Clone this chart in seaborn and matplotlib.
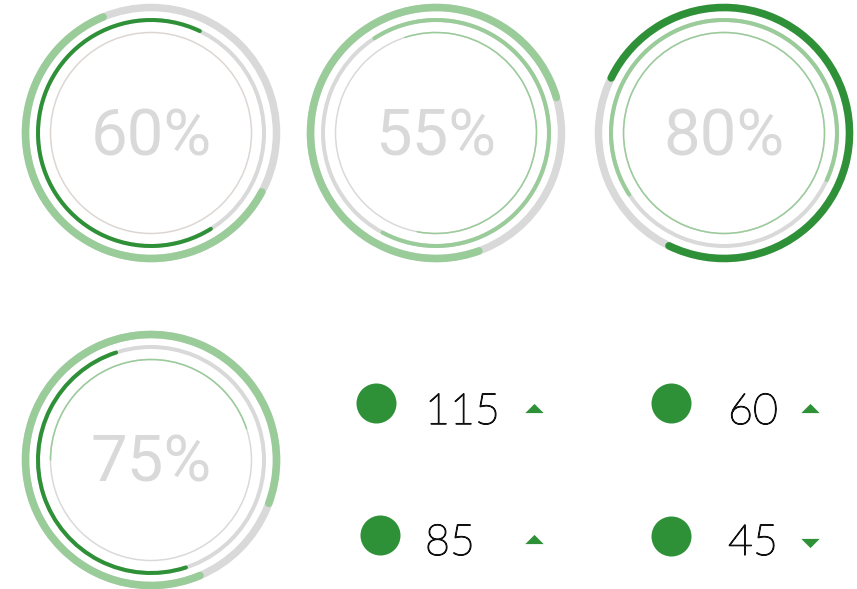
import pandas as pd
import matplotlib
matplotlib.use("Agg")
import matplotlib.pyplot as plt
import matplotlib.patheffects as pe
from matplotlib.patches import Arc
import seaborn as sns

# Gauge data (angles in degrees clockwise from 12 o'clock, values as fraction of circle)
gauge_labels = ["60%", "55%", "80%", "75%"]
outer_start = [118, 160, 296, 157]
outer_value = [0.61, 0.76, 0.75, 0.87]
middle_start = [148, 327, 237, 162]
middle_value = [0.66, 0.67, 0.66, 0.50]
inner_start = [0, 342, 0, 270]
inner_value = [0.0, 0.58, 1.0, 0.45]

# KPI data
kpi_values = [115, 60, 85, 45]
kpi_trend = ["up", "up", "up", "down"]

# Colours
dark_green = "#2e9137"
light_green = "#99cc99"
track_grey = "#d9d9d9"
outer_colors = [light_green, light_green, dark_green, light_green]
middle_colors = [dark_green, light_green, light_green, dark_green]
inner_colors = [light_green, light_green, light_green, light_green]
inner_tracks = ["#dcd6d2", track_grey, track_grey, track_grey]

# Layout (pixel coordinates)
W, H = 857, 589
gauge_centers = [(151, 133), (436, 133), (724, 133), (151, 460)]
ring_radius = {"outer": 125.5, "middle": 113, "inner": 100.5}
ring_width = {"outer": 7.5, "middle": 4.0, "inner": 1.5}
kpi_dot_pos = [(376, 403), (671, 403), (380, 535), (671, 536)]
kpi_text_pos = [(425, 424), (728, 424), (425, 555), (728, 555)]
kpi_tri_pos = [(534, 408), (810, 408), (534, 539), (810, 543)]

sns.set_style("white")
plt.rcParams["font.family"] = ["Roboto", "DejaVu Sans"]

fig = plt.figure(figsize=(W / 100, H / 100), dpi=100)
ax = fig.add_axes([0, 0, 1, 1])
ax.set_xlim(0, W)
ax.set_ylim(H, 0)
ax.set_aspect("equal")
ax.axis("off")

px = 72 / 100  # pixels -> points


def ring(center, ring_name, start, value, color, track):
    r = ring_radius[ring_name]
    lw = ring_width[ring_name] * px
    ax.add_patch(Arc(center, 2 * r, 2 * r, theta1=0, theta2=360,
                     lw=lw, color=track))
    if value > 0:
        t1 = start - 90
        t2 = t1 + value * 360
        ax.add_patch(Arc(center, 2 * r, 2 * r, theta1=t1, theta2=t2,
                         lw=lw, color=color, capstyle="round"))


for i, c in enumerate(gauge_centers):
    ring(c, "outer", outer_start[i], outer_value[i], outer_colors[i], track_grey)
    ring(c, "middle", middle_start[i], middle_value[i], middle_colors[i], track_grey)
    ring(c, "inner", inner_start[i], inner_value[i], inner_colors[i], inner_tracks[i])
    ax.text(c[0], c[1] + 22, gauge_labels[i], ha="center", va="baseline",
            fontsize=47, color="#d9d9d9", family="Roboto")

# KPI bullets
dots = pd.DataFrame(kpi_dot_pos, columns=["x", "y"])
sns.scatterplot(data=dots, x="x", y="y", s=830, color=dark_green,
                linewidth=0, ax=ax, legend=False)

tri = pd.DataFrame(kpi_tri_pos, columns=["x", "y"])
tri["trend"] = kpi_trend
up_marker = [(-1, -0.5), (1, -0.5), (0, 0.5)]
down_marker = [(-1, 0.5), (1, 0.5), (0, -0.5)]
sns.scatterplot(data=tri[tri["trend"] == "up"], x="x", y="y", marker=up_marker,
                s=175, color=dark_green, linewidth=0, ax=ax, legend=False)
sns.scatterplot(data=tri[tri["trend"] == "down"], x="x", y="y", marker=down_marker,
                s=175, color=dark_green, linewidth=0, ax=ax, legend=False)

for (x, y), v in zip(kpi_text_pos, kpi_values):
    ax.text(x, y, str(v), ha="left", va="baseline", fontsize=31,
            family="Lato", fontweight="light", color="#111111",
            path_effects=[pe.withStroke(linewidth=0.9, foreground="#111111")])

ax.set_xlim(0, W)
ax.set_ylim(H, 0)
ax.axis("off")
fig.savefig("out.png", dpi=100, facecolor="white")
